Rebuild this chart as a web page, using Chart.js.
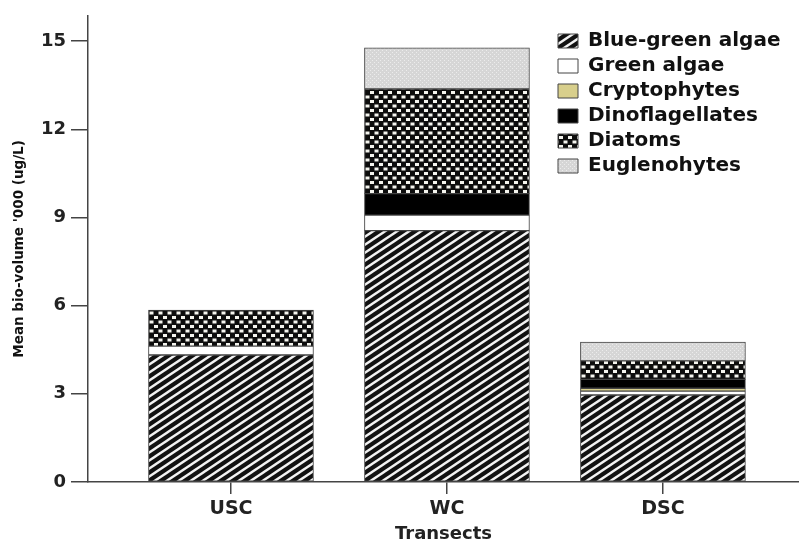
<!DOCTYPE html>
<html>
<head>
<meta charset="utf-8">
<script src="https://cdn.jsdelivr.net/npm/chart.js@4"></script>
<style>
  html, body { margin: 0; padding: 0; background: #ffffff; }
  #wrap { width: 799px; height: 547px; }
</style>
</head>
<body>
<div id="wrap"><canvas id="c" width="799" height="547"></canvas></div>
<script>
// ---- data ----
const transects = ['USC', 'WC', 'DSC'];
const blueGreenAlgae  = [4.32, 8.55, 2.96];
const greenAlgae      = [0.30, 0.53, 0.13];
const cryptophytes    = [0.00, 0.00, 0.10];
const dinoflagellates = [0.00, 0.73, 0.30];
const diatoms         = [1.23, 3.56, 0.63];
const euglenophytes   = [0.00, 1.40, 0.64];
const yTicks = [0, 3, 6, 9, 12, 15];

// ---- patterns ----
function makeTile(w, h, draw) {
  const c = document.createElement('canvas');
  c.width = w; c.height = h;
  const g = c.getContext('2d');
  draw(g, w, h);
  return document.createElement('canvas').getContext('2d').createPattern(c, 'repeat');
}
const stripePattern = makeTile(12, 8, (g, w, h) => {
  g.fillStyle = '#111'; g.fillRect(0, 0, w, h);
  g.strokeStyle = '#f2f2f2'; g.lineWidth = 2.4;
  for (const dy of [-8, 0, 8]) {
    g.beginPath(); g.moveTo(-2, 8 + dy + 4/3); g.lineTo(14, dy - 4/3); g.stroke();
  }
});
const checkPattern = makeTile(9, 9, (g, w, h) => {
  g.fillStyle = '#0d0d0d'; g.fillRect(0, 0, w, h);
  g.fillStyle = '#f4f4ee';
  g.fillRect(1, 1, 4, 3);
  g.fillRect(5.5, 5.5, 3.5, 3); g.fillRect(0, 5.5, 0.5, 3);
});
const dotPattern = makeTile(4, 4, (g, w, h) => {
  g.fillStyle = '#d6d6d6'; g.fillRect(0, 0, w, h);
  g.fillStyle = '#ececec';
  g.fillRect(0, 0, 1, 1); g.fillRect(2, 2, 1, 1);
});

const seriesDefs = [
  ['Blue-green algae', blueGreenAlgae, stripePattern],
  ['Green algae', greenAlgae, '#ffffff'],
  ['Cryptophytes', cryptophytes, '#d8cf8c'],
  ['Dinoflagellates', dinoflagellates, '#000000'],
  ['Diatoms', diatoms, checkPattern],
  ['Euglenohytes', euglenophytes, dotPattern]
];

const datasets = seriesDefs.map(([label, vals, fill]) => ({
  label,
  data: transects.map((t, i) => ({ x: i + 1, y: vals[i] })),
  backgroundColor: fill,
  borderColor: '#444',
  borderWidth: 1,
  borderSkipped: false,
  barThickness: 165
}));

const FONT = 'DejaVu Sans';

const legendMover = {
  id: 'legendMover',
  afterUpdate(chart) {
    const lg = chart.legend;
    if (!lg) return;
    const w = lg.right - lg.left, h = lg.bottom - lg.top;
    lg.left = 553; lg.top = 26;
    lg.right = lg.left + w; lg.bottom = lg.top + h;
  }
};

new Chart(document.getElementById('c'), {
  type: 'bar',
  data: { datasets },
  plugins: [legendMover],
  options: {
    responsive: false,
    animation: false,
    devicePixelRatio: 1,
    layout: { padding: { top: 5, right: 0, left: 0, bottom: 0 } },
    plugins: {
      tooltip: { enabled: false },
      legend: {
        position: 'chartArea',
        align: 'start',
        labels: {
          boxWidth: 20,
          boxHeight: 14,
          padding: 5,
          color: '#111',
          font: { family: FONT, size: 20, weight: 'bold' }
        }
      }
    },
    scales: {
      x: {
        type: 'linear',
        stacked: true,
        offset: false,
        min: 0.338,
        max: 3.63,
        afterBuildTicks(scale) {
          scale.ticks = transects.map((t, i) => ({ value: i + 1 }));
        },
        afterFit(scale) { scale.height = 65; },
        grid: { display: true, offset: false, drawOnChartArea: false, drawTicks: true, tickLength: 12, color: '#444', lineWidth: 1.5 },
        border: { display: true, color: '#444', width: 1.5 },
        ticks: {
          padding: 4,
          color: '#222',
          font: { family: FONT, size: 19, weight: 'bold' },
          callback: (v) => transects[v - 1] || ''
        },
        title: {
          display: true,
          text: 'Transects',
          color: '#222',
          padding: { top: 0, bottom: 2 },
          font: { family: FONT, size: 18, weight: 'bold' }
        }
      },
      y: {
        stacked: true,
        min: 0,
        max: 15.86,
        afterBuildTicks(scale) {
          scale.ticks = yTicks.map(v => ({ value: v }));
        },
        afterFit(scale) { scale.width = 88; },
        grid: { display: true, drawOnChartArea: false, drawTicks: true, tickLength: 17, color: '#444', lineWidth: 1.5 },
        border: { display: true, color: '#444', width: 1.5 },
        ticks: {
          padding: 5,
          color: '#222',
          font: { family: FONT, size: 18, weight: 'bold' }
        },
        title: {
          display: true,
          text: "Mean bio-volume '000 (ug/L)",
          color: '#111',
          padding: { top: 11, bottom: 0 },
          font: { family: FONT, size: 13.5, weight: 'bold' }
        }
      }
    }
  }
});
</script>
</body>
</html>
